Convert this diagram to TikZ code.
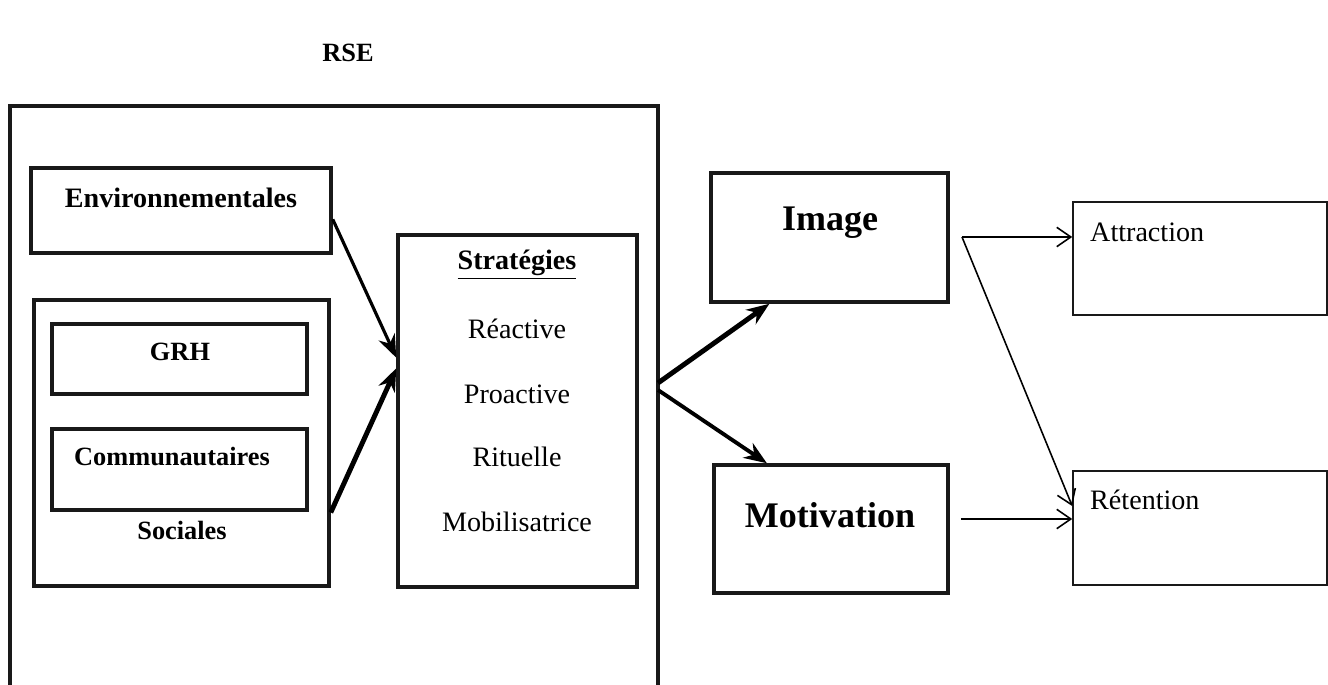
\documentclass[tikz,border=0pt]{standalone}
\usepackage{fontspec}
\setmainfont{Liberation Serif}
\usetikzlibrary{arrows.meta,fit,calc}
\begin{document}
\begin{tikzpicture}[
		x=0.02cm, y=-0.02cm,
		boite/.style={draw=black!90, line width=2pt, inner sep=0pt},
		boitefine/.style={draw=black!90, line width=0.9pt, inner sep=0pt},
		etiq/.style={font=\fontsize{15}{18}\selectfont\bfseries},
		grand/.style={font=\fontsize{20.5}{24}\selectfont\bfseries},
		texte/.style={font=\fontsize{16}{19}\selectfont},
		fleche/.style={line width=#1, -{Stealth[length=13pt,width=10pt]}},
		flechefine/.style={line width=0.9pt, -{Straight Barb[length=8pt,width=11pt]}}
	]
	\useasboundingbox (0,0) rectangle (1328,685);
	% titre et cadre RSE
	\node[etiq] (rse) at (348,53) {RSE};
	\draw[line width=2pt, draw=black!90] (10,690) -- (10,106) -- (658,106) -- (658,690);
	\coordinate (sortieA) at (658,383);
	\coordinate (sortieB) at (658,390);

	% dimensions
	\node[boite, fit={(31,168) (331,253)}] (env) {};
	\node[etiq, font=\fontsize{16}{19}\selectfont\bfseries] (tenv) at (181,198) {Environnementales};
	\node[boite, fit={(34,300) (329,586)}] (soc) {};
	\node[boite, fit={(52,324) (307,394)}] (grh) {};
	\node[etiq] (tgrh) at (180,352) {GRH};
	\node[boite, fit={(52,429) (307,510)}] (comm) {};
	\node[etiq] (tcomm) at (172,457) {Communautaires};
	\node[etiq] (tsoc) at (182,530) {Sociales};

	% strategies
	\node[boite, fit={(398,235) (637,587)}] (strat) {};
	\node[etiq, font=\fontsize{16}{19}\selectfont\bfseries] (tstrat) at (517,265) {\underline{Stratégies}};
	\foreach \nom/\y in {Réactive/329, Proactive/394, Rituelle/457, Mobilisatrice/522}
		\node[texte] (s\y) at (517,\y) {\nom};

	% effets
	\node[boite, fit={(711,173) (948,302)}] (img) {};
	\node[grand] (timg) at (830,223) {Image};
	\node[boite, fit={(714,465) (948,593)}] (mot) {};
	\node[grand] (tmot) at (830,515) {Motivation};

	% resultats
	\node[boitefine, fit={(1073,202) (1327,315)}] (attr) {};
	\node[texte, anchor=west] (tattr) at (1084,232) {Attraction};
	\node[boitefine, fit={(1073,471) (1327,585)}] (ret) {};
	\node[texte, anchor=west] (tret) at (1084,500) {Rétention};

	% fleches
	\draw[fleche=1.8pt] ($(env.north east)!0.6!(env.south east)$) -- ($(strat.north west)!0.35!(strat.south west)$);
	\draw[fleche=2.8pt] ($(soc.north east)!0.74!(soc.south east)$) -- ($(strat.north west)!0.38!(strat.south west)$);
	\draw[fleche=2.8pt] (sortieA) -- ($(img.south west)!0.25!(img.south east)$);
	\draw[fleche=2.2pt] (sortieB) -- ($(mot.north west)!0.23!(mot.north east)$);

	\coordinate (fourche) at (962,237);
	\draw[flechefine] (fourche) -- (attr.west |- fourche);
	\draw[flechefine] (fourche) -- ($(ret.north west)!0.31!(ret.south west)$);
	\draw[flechefine] ($(mot.east)+(11,-10)$) -- (ret.west |- {$(mot.east)+(11,-10)$});
\end{tikzpicture}
\end{document}
